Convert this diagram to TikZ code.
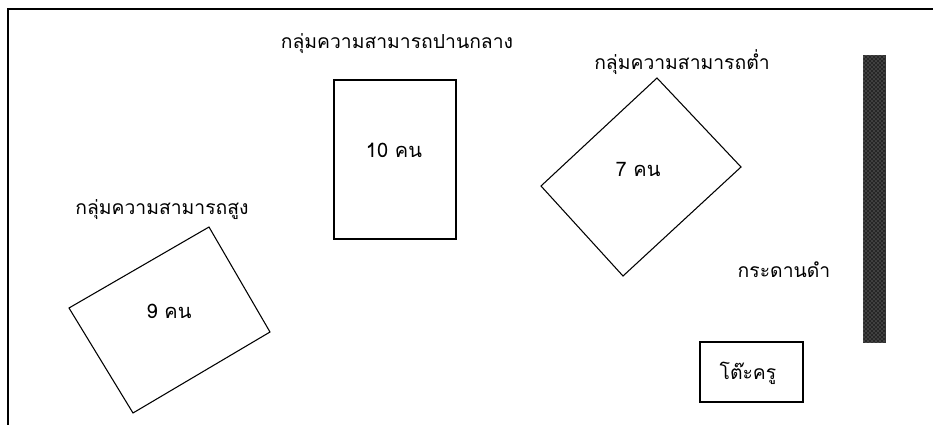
\documentclass[tikz,border=0pt]{standalone}
\usepackage{fontspec}
\newfontfamily\thaifont[Script=Thai]{Loma}
\usetikzlibrary{patterns}

\begin{document}
\begin{tikzpicture}[
  x=0.75pt, y=-0.75pt,
  grp/.style={draw, line width=0.8pt},
  lbl/.style={font=\thaifont\fontsize{14.5}{16}\selectfont, inner sep=0pt},
  cnt/.style={font=\thaifont\fontsize{15}{17}\selectfont, inner sep=0pt},
  board/.style={draw=black!80, line width=0.6pt, fill=black!85,
                postaction={pattern=crosshatch dots, pattern color=black!40}},
]
\useasboundingbox (0,0) rectangle (933,425);

% ── frame ────────────────────────────────────────────────────────────────────
\draw[line width=1.2pt] (8,425) -- (8,9) -- (933,9);

% ── groups ───────────────────────────────────────────────────────────────────
\draw[grp] (334,80) rectangle (456,239);
\node[cnt] (midn) at (394,150) {10 คน};
\node[lbl] (midl) at (397,44) {กลุ่มความสามารถปานกลาง};

\draw[grp] (657,78) -- (741,167) -- (623,276) -- (541,186) -- cycle;
\node[cnt] (lown) at (638,169) {7 คน};
\node[lbl] (lowl) at (682,62) {กลุ่มความสามารถต่ำ};

\draw[grp] (209,227) -- (270,332) -- (133,413) -- (69,308) -- cycle;
\node[cnt] (highn) at (169,311) {9 คน};
\node[lbl] (highl) at (162,210) {กลุ่มความสามารถสูง};

% ── board and desk ───────────────────────────────────────────────────────────
\draw[board] (863,55) rectangle (885,342);
\node[lbl] (boardl) at (784,270) {กระดานดำ};

\draw[grp] (700,342) rectangle (803,402);
\node[lbl] (desk) at (748,373) {โต๊ะครู};

\end{tikzpicture}
\end{document}
